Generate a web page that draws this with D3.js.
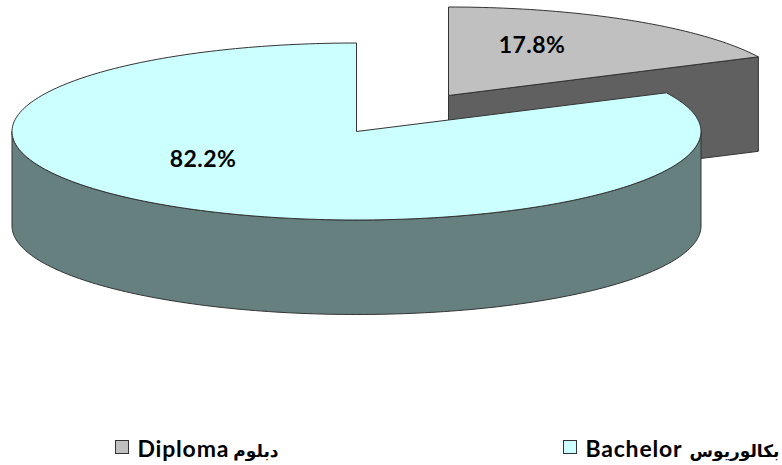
<!DOCTYPE html>
<html>
<head>
<meta charset="utf-8">
<script src="https://cdn.jsdelivr.net/npm/d3@7"></script>
<style>
    html, body { margin: 0; padding: 0; background: #fff; }
    svg { display: block; }
    text { font-family: Lato, "DejaVu Sans", sans-serif; font-weight: bold; fill: #000; }
</style>
</head>
<body>
<div id="chart"></div>
<script>
var categories = ["Diploma", "Bachelor"];
var categoriesArabic = ["دبلوم", "بكالوريوس"];
var values = [17.8, 82.2];

var topColours = ["#c0c0c0", "#ccffff"];
var sideColours = ["#606060", "#668080"];

var width = 782,
    height = 465;

var svg = d3.select("#chart")
    .append("svg")
    .attr("width", width)
    .attr("height", height);

// start at 12 o'clock, clockwise, in data order
var slices = d3.pie().sort(null).value(function (d) { return d; })(values);

// each slice has its own tilted disc, the small one is pulled out
var rx = 344.5, ry = 88.5, depth = 94.5;
var discs = [
    { x: d3.scaleLinear().domain([-1, 1]).range([448.5 - rx, 448.5 + rx]), y: d3.scaleLinear().domain([-1, 1]).range([95.5 - ry, 95.5 + ry]) },
    { x: d3.scaleLinear().domain([-1, 1]).range([356.5 - rx, 356.5 + rx]), y: d3.scaleLinear().domain([-1, 1]).range([131.5 - ry, 131.5 + ry]) }
];

function rimAngles(a0, a1) {
    var n = Math.max(2, Math.ceil((a1 - a0) / 0.02));
    return d3.range(n + 1).map(function (i) { return a0 + (a1 - a0) * i / n; });
}

function rimPoint(disc, a, drop) {
    return [disc.x(Math.sin(a)), disc.y(-Math.cos(a)) + drop];
}

var line = d3.line();

function drawSlice(i) {
    var s = slices[i], disc = discs[i];
    var centre = [disc.x(0), disc.y(0)];
    var g = svg.append("g");

    if (i === 0) {
        // cut face running from the centre to the rim
        var tip = rimPoint(disc, s.endAngle, 0);
        g.append("path")
            .attr("d", line([centre, tip, [tip[0], tip[1] + depth], [centre[0], centre[1] + depth]]) + "Z")
            .attr("fill", sideColours[i])
            .attr("stroke", "#333")
            .attr("stroke-width", 1);
    } else {
        // front wall, only the lower half of the rim shows
        var a0 = Math.max(s.startAngle, Math.PI / 2),
            a1 = Math.min(s.endAngle, Math.PI * 1.5);
        var upper = rimAngles(a0, a1).map(function (a) { return rimPoint(disc, a, 0); });
        var lower = rimAngles(a0, a1).reverse().map(function (a) { return rimPoint(disc, a, depth); });
        g.append("path")
            .attr("d", line(upper.concat(lower)) + "Z")
            .attr("fill", sideColours[i])
            .attr("stroke", "#333")
            .attr("stroke-width", 1);
    }

    // top face
    var rim = rimAngles(s.startAngle, s.endAngle).map(function (a) { return rimPoint(disc, a, 0); });
    g.append("path")
        .attr("d", line([centre].concat(rim)) + "Z")
        .attr("fill", topColours[i])
        .attr("stroke", "#333")
        .attr("stroke-width", 1);
}

drawSlice(0);
drawSlice(1);

// value labels
var labelAt = [[532, 53], [203, 167]];
svg.selectAll(".value")
    .data(values)
    .enter()
    .append("text")
    .attr("class", "value")
    .attr("x", function (d, i) { return labelAt[i][0]; })
    .attr("y", function (d, i) { return labelAt[i][1]; })
    .attr("text-anchor", "middle")
    .attr("font-size", 23)
    .attr("letter-spacing", 0.4)
    .text(function (d) { return d3.format(".1f")(d) + "%"; });

// legend
var legendX = [115.5, 563.5];
var arabicEnd = [163, 216];
var legend = svg.selectAll(".legend")
    .data(categories)
    .enter()
    .append("g")
    .attr("class", "legend")
    .attr("transform", function (d, i) { return "translate(" + legendX[i] + ",440.5)"; });

legend.append("rect")
    .attr("width", 13)
    .attr("height", 13)
    .attr("fill", function (d, i) { return topColours[i]; })
    .attr("stroke", "#333")
    .attr("stroke-width", 1);

legend.append("text")
    .attr("x", 22)
    .attr("y", 16)
    .attr("font-size", 23)
    .attr("letter-spacing", 0.8)
    .text(function (d) { return d; });

legend.append("text")
    .attr("x", function (d, i) { return arabicEnd[i]; })
    .attr("y", 16)
    .attr("font-size", 17)
    .attr("text-anchor", "end")
    .text(function (d, i) { return categoriesArabic[i]; });
</script>
</body>
</html>
